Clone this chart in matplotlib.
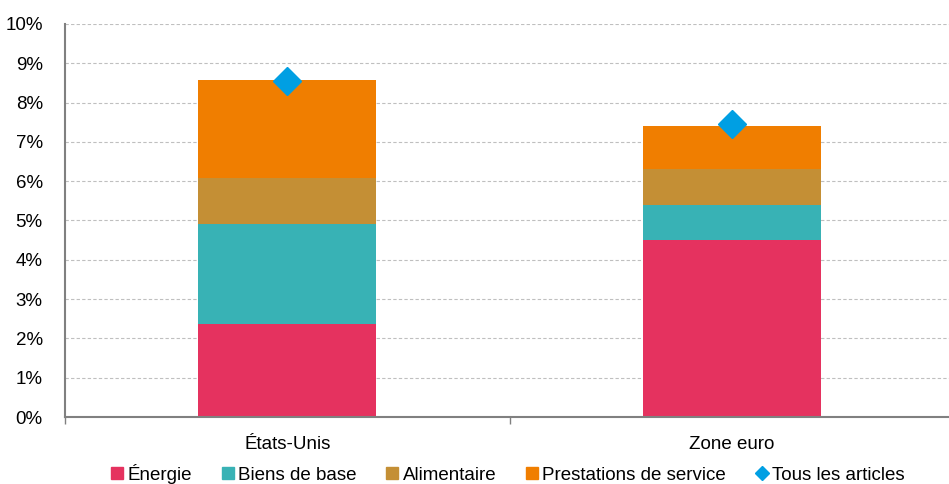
import matplotlib
matplotlib.use("Agg")
import matplotlib.pyplot as plt
from matplotlib.lines import Line2D
from matplotlib.ticker import FuncFormatter, FixedLocator
import numpy as np

plt.rcParams['font.family'] = ['Liberation Sans Narrow', 'Liberation Sans', 'DejaVu Sans']

categories = ["États-Unis", "Zone euro"]
energie = [2.36, 4.50]
biens = [2.54, 0.89]
alimentaire = [1.17, 0.91]
services = [2.51, 1.11]
total = [8.54, 7.45]

series_names = ["Énergie", "Biens de base", "Alimentaire", "Prestations de service"]
colors = ["#E5325F", "#38B2B5", "#C48F35", "#F07E00"]
diamond_color = "#009FE3"

fig = plt.figure(figsize=(9.49, 4.84), dpi=100)
ax = fig.add_axes([65/949, 67/484, 889/949, 393/484])

x = np.arange(len(categories))
bottom = np.zeros(len(categories))
for vals, col in zip([energie, biens, alimentaire, services], colors):
    ax.bar(x, vals, width=0.4, bottom=bottom, color=col, edgecolor='none', zorder=2)
    bottom += np.array(vals)
ax.plot(x, total, linestyle='none', marker='D', markersize=14.5, color=diamond_color, zorder=3)

ax.set_xlim(-0.5, 1.5)
ax.set_ylim(0, 10)
ax.set_yticks(np.arange(0, 11, 1))
ax.yaxis.set_major_formatter(FuncFormatter(lambda v, p: f"{int(v)}%"))
ax.grid(axis='y', color='#BFBFBF', linestyle=(0, (3, 2)), linewidth=0.8, zorder=0)
ax.set_axisbelow(True)

ax.set_xticks(x)
ax.set_xticklabels(categories)
ax.xaxis.set_minor_locator(FixedLocator([-0.5, 0.5, 1.5]))
ax.tick_params(axis='x', which='major', length=0, pad=14, labelsize=13.5, colors='#000000')
ax.tick_params(axis='x', which='minor', length=5, color='#808080', width=1)
ax.tick_params(axis='y', length=0, pad=16, labelsize=13.5)

for s in ['top', 'right']:
    ax.spines[s].set_visible(False)
for s in ['left', 'bottom']:
    ax.spines[s].set_color('#808080')
    ax.spines[s].set_linewidth(1.5)

handles = [Line2D([], [], linestyle='none', marker='s', markersize=8, color=c) for c in colors]
handles.append(Line2D([], [], linestyle='none', marker='D', markersize=7, color=diamond_color))
labels = series_names + ["Tous les articles"]
fig.legend(handles, labels, loc='center', bbox_to_anchor=(0.536, 10/484), ncol=5,
           frameon=False, fontsize=13.5, handlelength=0.5, handletextpad=0.3,
           columnspacing=1.65, borderpad=0)

fig.savefig("out.png", dpi=100)
